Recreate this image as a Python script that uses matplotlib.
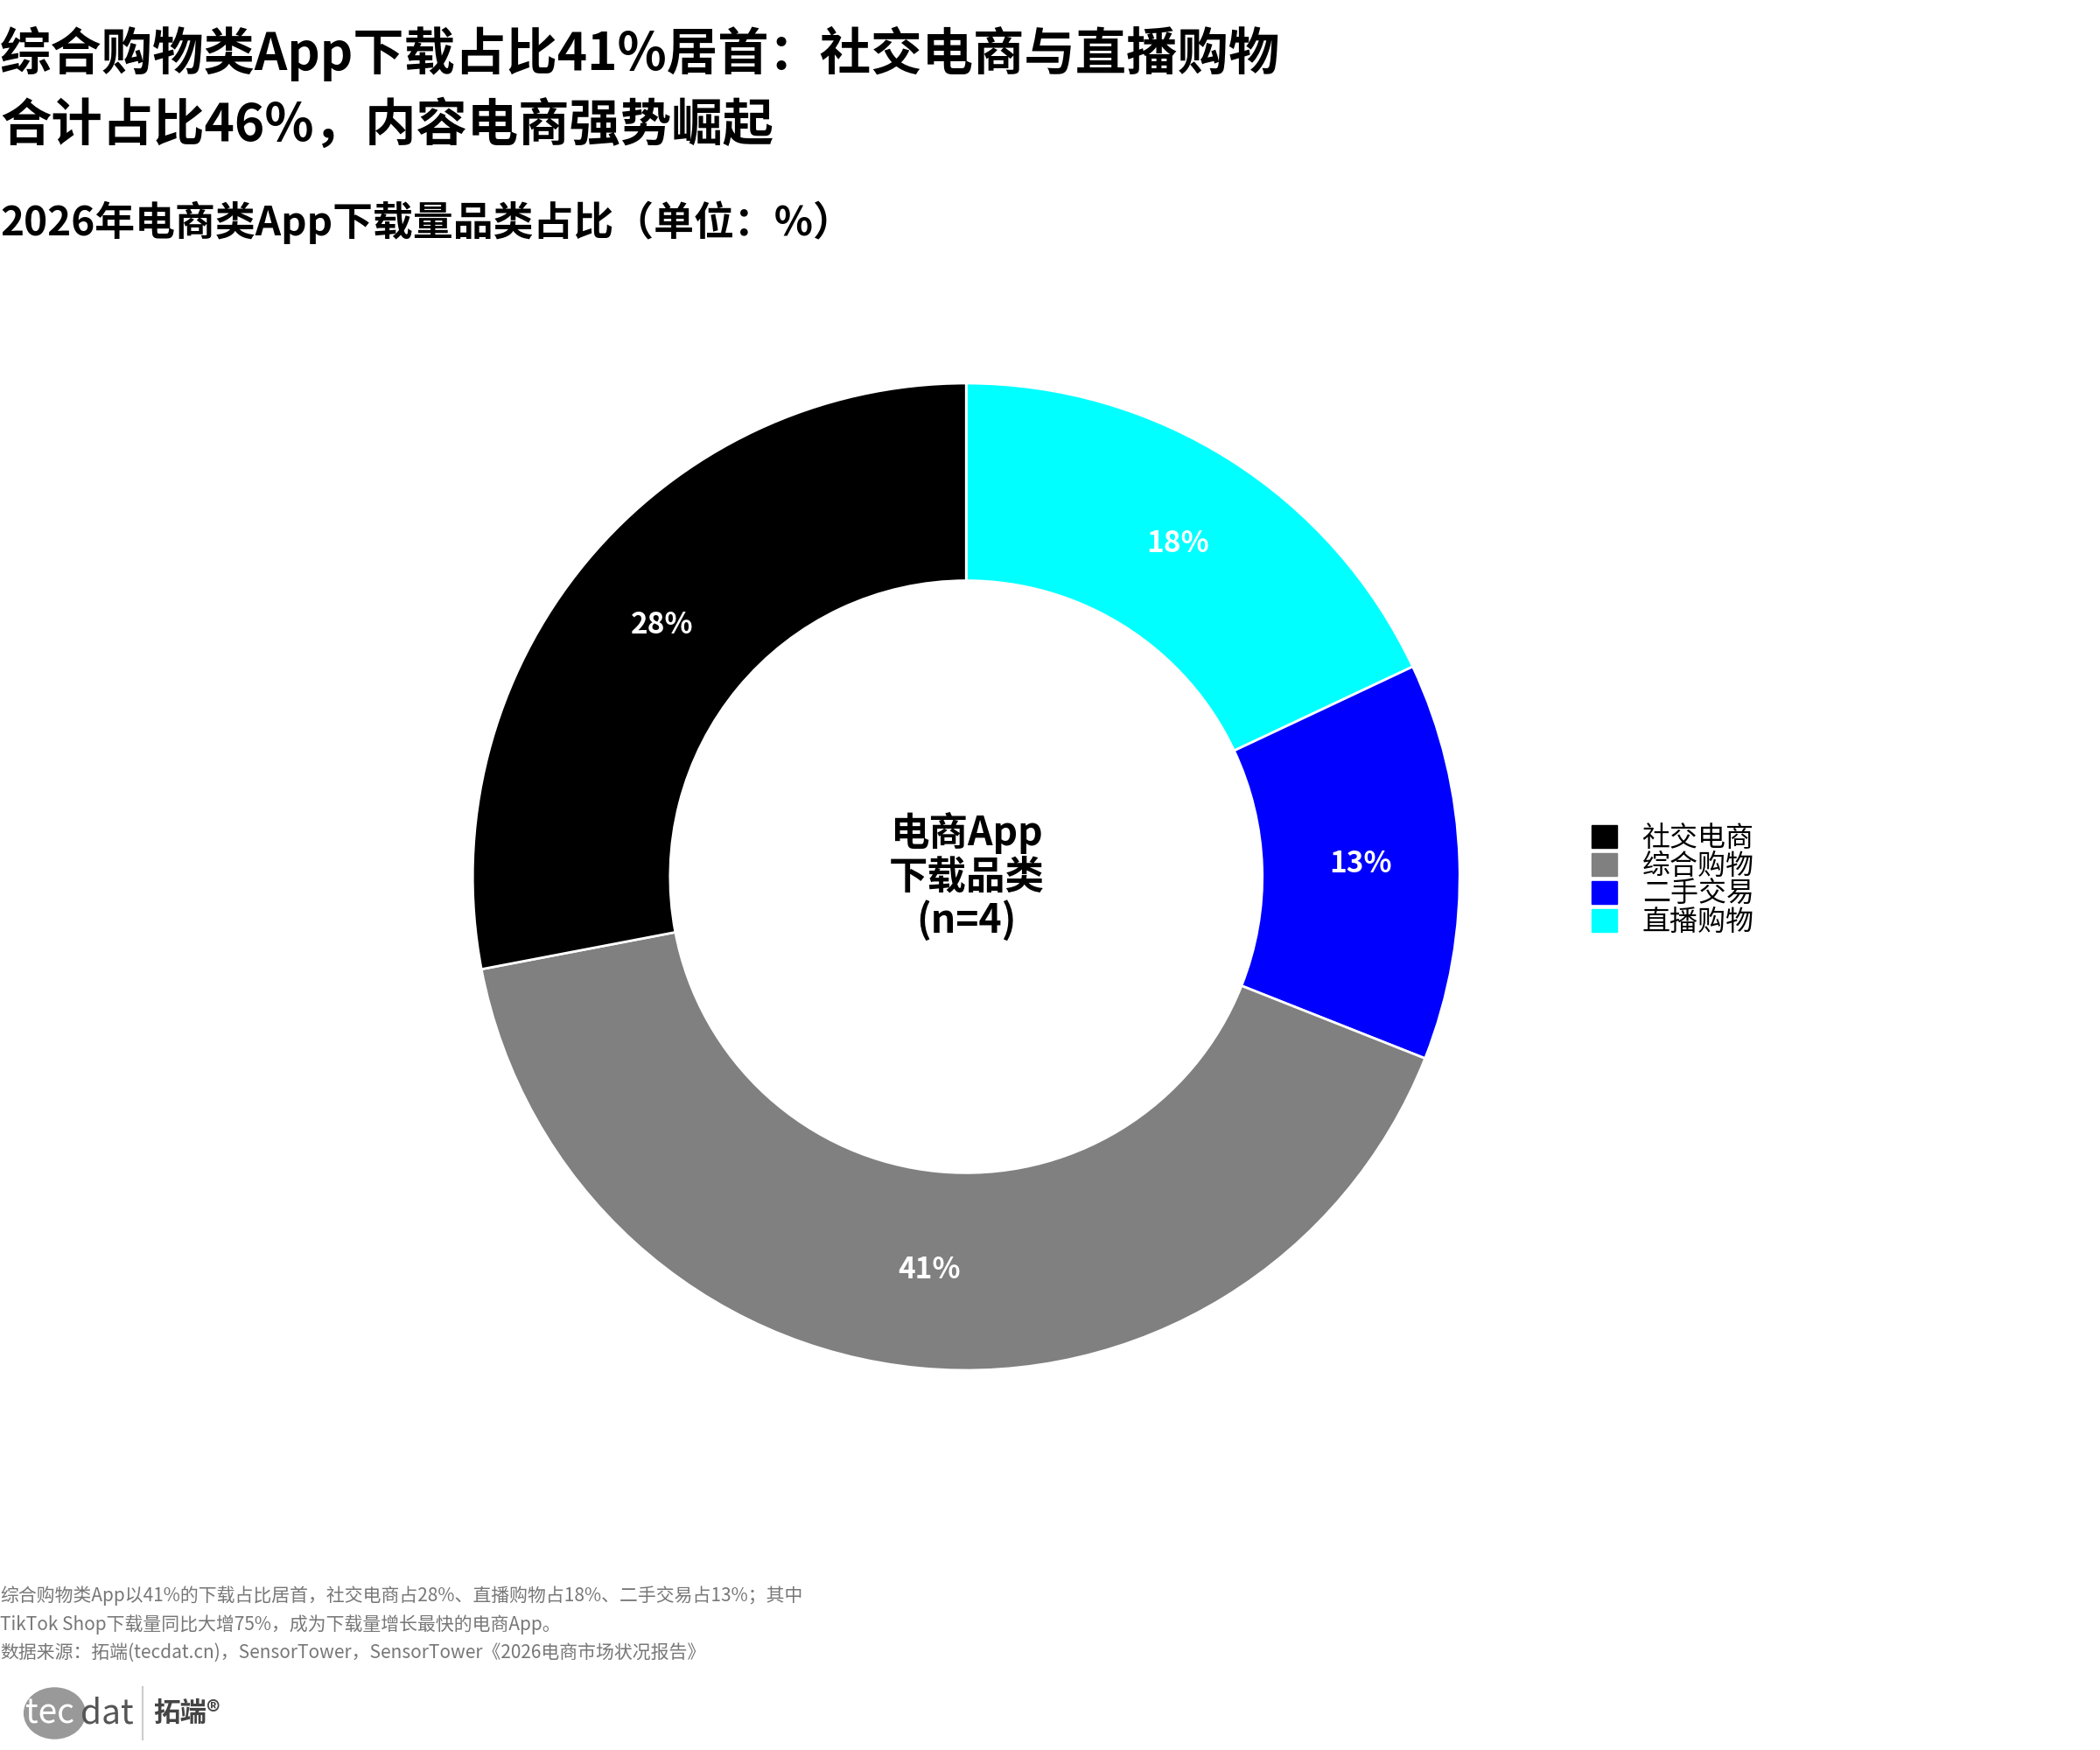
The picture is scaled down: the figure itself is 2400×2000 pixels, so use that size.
import matplotlib
matplotlib.use("Agg")
import matplotlib.pyplot as plt
from matplotlib.patches import Patch, Circle
import numpy as np

plt.rcParams['font.family'] = ['Noto Sans CJK SC', 'DejaVu Sans']

categories = ['直播购物', '二手交易', '综合购物', '社交电商']
values = [18, 13, 41, 28]
colors = ['#00FFFF', '#0000FF', '#808080', '#000000']
legend_order = ['社交电商', '综合购物', '二手交易', '直播购物']

fig = plt.figure(figsize=(24, 20), dpi=100)
ax = fig.add_axes([0.2251, 0.217, 0.47, 0.564])
wedges, _ = ax.pie(values, colors=colors, startangle=90, counterclock=False,
                   radius=1, wedgeprops=dict(width=0.4, edgecolor='white', linewidth=2))
ax.set_xlim(-1, 1)
ax.set_ylim(-1, 1)
ax.set_aspect('equal')
ang = 90
for v, w in zip(values, wedges):
    mid = ang - v * 3.6 / 2
    ang -= v * 3.6
    r = 0.8
    ax.text(r*np.cos(np.radians(mid)), r*np.sin(np.radians(mid)), f'{v}%',
            ha='center', va='center', color='white', fontsize=24, fontweight='bold')
ax.text(0, 0, '电商App\n下载品类\n(n=4)', ha='center', va='center', fontsize=32,
        fontweight='bold', linespacing=1.1)

handles = [Patch(color=colors[categories.index(c)]) for c in legend_order]
fig.legend(handles, legend_order, loc='center left', bbox_to_anchor=(0.746, 0.497),
           frameon=False, fontsize=23, handlelength=0.9, handleheight=0.9,
           labelspacing=0.0, handletextpad=0.9)

fig.text(0.0, 0.985, '综合购物类App下载占比41%居首：社交电商与直播购物\n合计占比46%，内容电商强势崛起',
         fontsize=42, fontweight='bold', va='top', ha='left', linespacing=1.45)
fig.text(0.0, 0.873, '2026年电商类App下载量品类占比（单位：%）', fontsize=33,
         fontweight='bold', va='center', ha='left')
fig.text(0.0, 0.072, '综合购物类App以41%的下载占比居首，社交电商占28%、直播购物占18%、二手交易占13%；其中\n'
         'TikTok Shop下载量同比大增75%，成为下载量增长最快的电商App。\n'
         '数据来源：拓端(tecdat.cn)，SensorTower，SensorTower《2026电商市场状况报告》',
         fontsize=15, color='#777777', va='center', ha='left', linespacing=1.55)
fig.patches.append(Circle((0.026, 0.021), 0.0145, transform=fig.transFigure,
                          color='#999999', figure=fig))
fig.text(0.012, 0.021, 'tec', fontsize=28, color='white', va='center', ha='left')
fig.text(0.0385, 0.021, 'dat', fontsize=28, color='#555555', va='center', ha='left')
fig.add_artist(plt.Line2D([0.068, 0.068], [0.006, 0.036], color='#cccccc', lw=1.5))
fig.text(0.073, 0.021, '拓端®', fontsize=22, fontweight='bold', color='#444444', va='center', ha='left')

fig.savefig('out.png', dpi=100, facecolor='white')
